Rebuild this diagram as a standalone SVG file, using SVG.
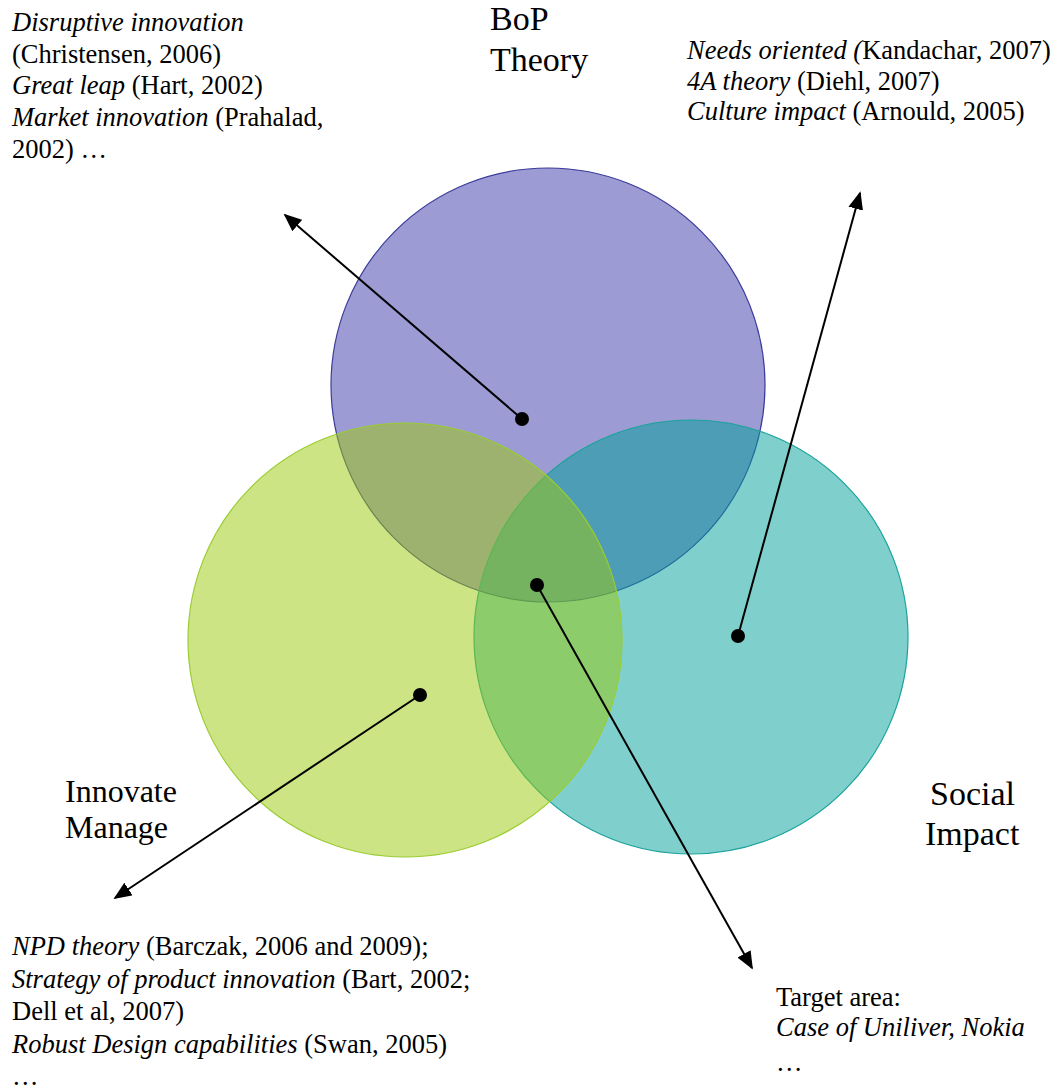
<svg xmlns="http://www.w3.org/2000/svg" width="1058" height="1089" viewBox="0 0 1058 1089" font-family="'Liberation Serif', 'Times New Roman', Tinos, serif">
<style>
text{font-family:'Liberation Serif','Times New Roman',Tinos,serif;fill:#000}
.t{font-size:26.5px}
.big{font-size:34px}
.i{font-style:italic}
.con{stroke:#000;stroke-width:2;fill:none;marker-end:url(#ah)}
.dot{fill:#000}
</style>
<defs>
<marker id="ah" viewBox="0 0 10 10" refX="9" refY="5" markerWidth="18" markerHeight="15" markerUnits="userSpaceOnUse" orient="auto" preserveAspectRatio="none">
<path d="M0,0 L10,5 L0,10 z" fill="#000"/>
</marker>
</defs>
<rect width="1058" height="1089" fill="#fff"/>
<g id="bop">
<circle cx="548" cy="385" r="217" fill="#3a37a8" fill-opacity="0.5" stroke="#3b3b9b" stroke-width="1.2"/>
<text class="big" x="490" y="30">BoP</text>
<text class="big" x="490" y="71">Theory</text>
</g>
<g id="social">
<circle cx="691" cy="637" r="217" fill="#00a09a" fill-opacity="0.5" stroke="#1aa39a" stroke-width="1.2"/>
<text class="big" x="930" y="805">Social</text>
<text class="big" x="925" y="845">Impact</text>
</g>
<g id="innovate">
<circle cx="405" cy="640" r="217" fill="#9bc90a" fill-opacity="0.5" stroke="#9acd32" stroke-width="1.2"/>
<text style="font-size:32px" x="65" y="802">Innovate</text>
<text style="font-size:32px" x="65" y="838">Manage</text>
</g>
<g id="connectors">
<line class="con" x1="522" y1="419" x2="285" y2="215"/>
<line class="con" x1="738" y1="636" x2="860" y2="193"/>
<line class="con" x1="420" y1="695" x2="115" y2="898"/>
<line class="con" x1="537" y1="585" x2="752" y2="968"/>
<circle class="dot" cx="522" cy="419" r="7"/>
<circle class="dot" cx="537" cy="585" r="7"/>
<circle class="dot" cx="738" cy="636" r="7"/>
<circle class="dot" cx="420" cy="695" r="7"/>
</g>
<g id="note-tl" class="t">
<text x="12" y="31"><tspan class="i">Disruptive innovation</tspan></text>
<text x="12" y="63">(Christensen, 2006)</text>
<text x="12" y="94"><tspan class="i">Great leap</tspan> (Hart, 2002)</text>
<text x="12" y="126"><tspan class="i">Market innovation</tspan> (Prahalad,</text>
<text x="12" y="158">2002) …</text>
</g>
<g id="note-tr" class="t">
<text x="687" y="59"><tspan class="i">Needs oriented (</tspan>Kandachar, 2007)</text>
<text x="687" y="90"><tspan class="i">4A theory</tspan> (Diehl, 2007)</text>
<text x="687" y="120"><tspan class="i">Culture impact</tspan> (Arnould, 2005)</text>
</g>
<g id="note-bl" class="t">
<text x="12" y="955"><tspan class="i">NPD theory</tspan> (Barczak, 2006 and 2009);</text>
<text x="12" y="988"><tspan class="i">Strategy of product innovation</tspan> (Bart, 2002;</text>
<text x="12" y="1020">Dell et al, 2007)</text>
<text x="12" y="1053"><tspan class="i">Robust Design capabilities</tspan> (Swan, 2005)</text>
<text x="12" y="1085">…</text>
</g>
<g id="note-br" class="t">
<text x="776" y="1006">Target area:</text>
<text x="776" y="1036"><tspan class="i">Case of Uniliver, Nokia</tspan></text>
<text x="776" y="1071">…</text>
</g>
</svg>
